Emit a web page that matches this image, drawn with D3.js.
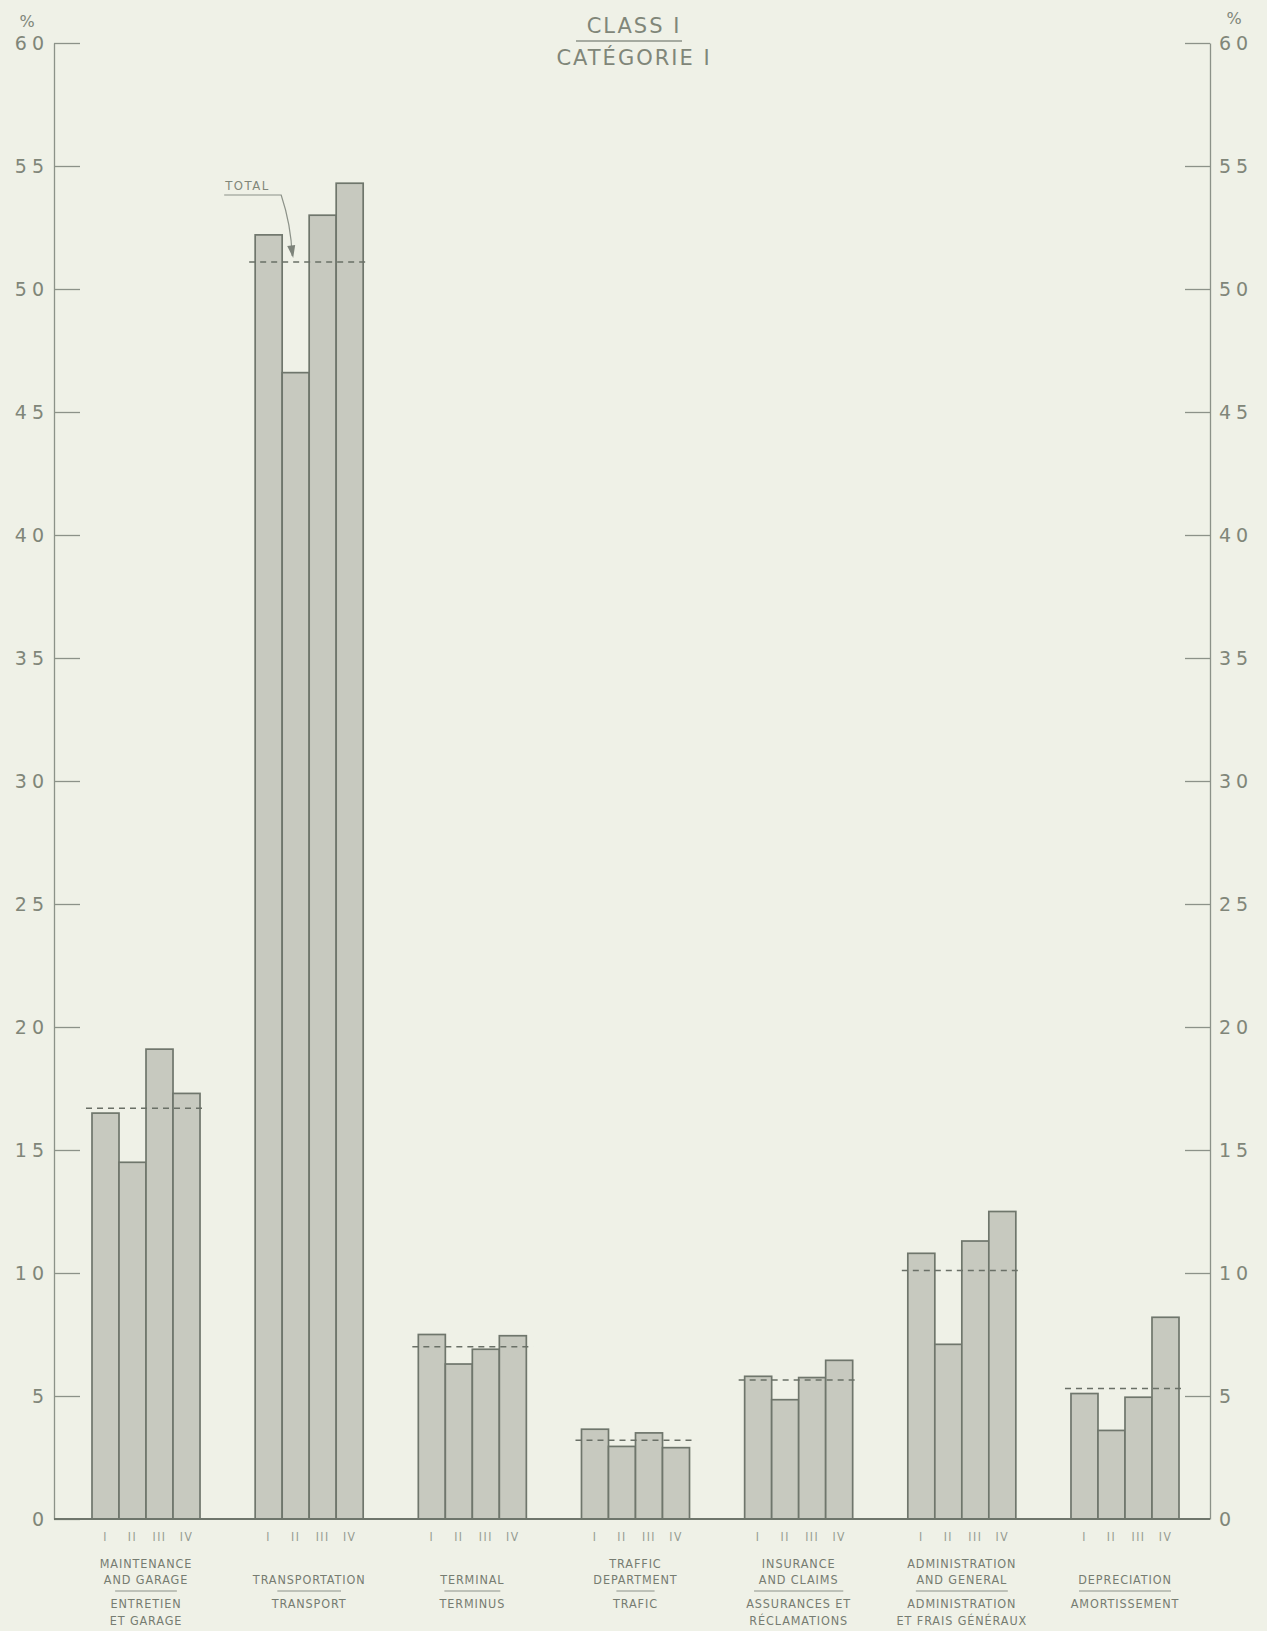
<!DOCTYPE html>
<html>
<head>
<meta charset="utf-8">
<script src="https://cdn.jsdelivr.net/npm/d3@7"></script>
<style>
  html, body { margin: 0; padding: 0; background: #eff1e7; }
  svg { display: block; }
</style>
</head>
<body>
<svg id="chart" width="1267" height="1631"></svg>
<script>
// categories (English / French labels)
const categories = ['maint', 'transp', 'term', 'traffic', 'insur', 'admin', 'depr']
const labelsEn = [
  ['MAINTENANCE', 'AND GARAGE'],
  ['TRANSPORTATION'],
  ['TERMINAL'],
  ['TRAFFIC', 'DEPARTMENT'],
  ['INSURANCE', 'AND CLAIMS'],
  ['ADMINISTRATION', 'AND GENERAL'],
  ['DEPRECIATION']
]
const labelsFr = [
  ['ENTRETIEN', 'ET GARAGE'],
  ['TRANSPORT'],
  ['TERMINUS'],
  ['TRAFIC'],
  ['ASSURANCES ET', 'RÉCLAMATIONS'],
  ['ADMINISTRATION', 'ET FRAIS GÉNÉRAUX'],
  ['AMORTISSEMENT']
]
const quarters = ['I', 'II', 'III', 'IV']

// per cent, per quarter
const valuesI   = [16.5, 52.2, 7.5, 3.65, 5.8, 10.8, 5.1]
const valuesII  = [14.5, 46.6, 6.3, 2.95, 4.85, 7.1, 3.6]
const valuesIII = [19.1, 53.0, 6.9, 3.5, 5.75, 11.3, 4.95]
const valuesIV  = [17.3, 54.3, 7.45, 2.9, 6.45, 12.5, 8.2]
const totals    = [16.7, 51.1, 7.0, 3.2, 5.65, 10.1, 5.3]

const yTicks = [0, 5, 10, 15, 20, 25, 30, 35, 40, 45, 50, 55, 60]

const series = [valuesI, valuesII, valuesIII, valuesIV]

const ink = '#6f766c'
const textFill = '#808679'
const barFill = '#c7c9bf'

const svg = d3.select('#chart')

const y = d3.scaleLinear().domain([0, 60]).range([1519, 43])

const x0 = d3.scaleBand()
  .domain(categories)
  .range([92, 1179])
  .paddingInner(0.338)
  .paddingOuter(0)

const x1 = d3.scaleBand()
  .domain(quarters)
  .range([0, x0.bandwidth()])
  .padding(0)

// axes
// ====
const leftAxis = svg.append('g')
  .attr('transform', 'translate(54,0)')
  .call(d3.axisLeft(y).tickValues(yTicks).tickSize(-26).tickSizeOuter(0).tickPadding(10))

const rightAxis = svg.append('g')
  .attr('transform', 'translate(1210,0)')
  .call(d3.axisRight(y).tickValues(yTicks).tickSize(-25).tickSizeOuter(0).tickPadding(9))

;[leftAxis, rightAxis].forEach(a => {
  a.select('.domain').attr('stroke', '#8c9289').attr('stroke-width', 1.3)
  a.selectAll('.tick line').attr('stroke', '#8c9289').attr('stroke-width', 1.3)
  a.selectAll('.tick text')
    .attr('fill', textFill)
    .attr('font-family', 'DejaVu Sans, sans-serif')
    .attr('font-size', 19)
    .attr('letter-spacing', 5)
})
leftAxis.selectAll('.tick text').attr('dx', 5)
rightAxis.selectAll('.tick').filter(d => d === 0).select('line').attr('stroke', 'none')

svg.append('text').text('%')
  .attr('x', 27).attr('y', 27)
  .attr('text-anchor', 'middle')
  .attr('fill', textFill).attr('font-family', 'DejaVu Sans, sans-serif').attr('font-size', 16)
svg.append('text').text('%')
  .attr('x', 1234).attr('y', 24)
  .attr('text-anchor', 'middle')
  .attr('fill', textFill).attr('font-family', 'DejaVu Sans, sans-serif').attr('font-size', 16)

// bars
// ====
const groups = svg.append('g').selectAll('g.group')
  .data(categories)
  .join('g')
  .attr('class', 'group')
  .attr('transform', d => `translate(${x0(d)},0)`)

groups.selectAll('rect')
  .data((d, i) => quarters.map((q, j) => ({ q, v: series[j][i] })))
  .join('rect')
  .attr('x', d => x1(d.q))
  .attr('y', d => y(d.v))
  .attr('width', x1.bandwidth())
  .attr('height', d => y(0) - y(d.v))
  .attr('fill', barFill)
  .attr('stroke', ink)
  .attr('stroke-width', 1.7)

// total dashed lines
groups.append('line')
  .attr('x1', -6)
  .attr('x2', x0.bandwidth() + 7)
  .attr('y1', (d, i) => y(totals[i]))
  .attr('y2', (d, i) => y(totals[i]))
  .attr('stroke', '#6a7067')
  .attr('stroke-width', 1.5)
  .attr('stroke-dasharray', '6,5')

// roman numerals
groups.selectAll('text.q')
  .data(quarters)
  .join('text')
  .attr('class', 'q')
  .attr('x', d => x1(d) + x1.bandwidth() / 2)
  .attr('y', 1541)
  .attr('text-anchor', 'middle')
  .attr('fill', '#959b91')
  .attr('font-family', 'DejaVu Sans Condensed, DejaVu Sans, sans-serif')
  .attr('font-size', 12)
  .attr('letter-spacing', 1.5)
  .text(d => d)

// baseline
svg.append('line')
  .attr('x1', 54).attr('x2', 1210)
  .attr('y1', y(0)).attr('y2', y(0))
  .attr('stroke', ink).attr('stroke-width', 1.8)

// category labels
// ===============
const labelFont = 'DejaVu Sans Condensed, DejaVu Sans, sans-serif'
function addLabel(g, t, cx, yy) {
  return g.append('text')
    .attr('x', cx)
    .attr('y', yy)
    .attr('text-anchor', 'middle')
    .attr('fill', '#767c71')
    .attr('font-family', labelFont)
    .attr('font-size', 12.5)
    .attr('letter-spacing', 0.9)
    .text(t)
}
groups.each(function (d, i) {
  const g = d3.select(this)
  const cx = x0.bandwidth() / 2
  const en = labelsEn[i]
  en.forEach((t, k) => addLabel(g, t, cx, 1584 - (en.length - 1 - k) * 16))
  let w = 0
  labelsFr[i].forEach((t, k) => {
    const node = addLabel(g, t, cx, 1608 + k * 17).node()
    w = Math.max(w, node.getComputedTextLength())
  })
  const half = Math.min(w * 0.85, 92) / 2
  g.append('line')
    .attr('x1', cx - half).attr('x2', cx + half)
    .attr('y1', 1591).attr('y2', 1591)
    .attr('stroke', '#8c9289').attr('stroke-width', 1.2)
})

// title
// =====
svg.append('text').text('CLASS I')
  .attr('x', 634).attr('y', 33)
  .attr('text-anchor', 'middle')
  .attr('fill', textFill).attr('font-family', 'DejaVu Sans, sans-serif')
  .attr('font-size', 21).attr('letter-spacing', 2)
svg.append('line')
  .attr('x1', 576).attr('x2', 682).attr('y1', 41).attr('y2', 41)
  .attr('stroke', '#8c9289').attr('stroke-width', 1.3)
svg.append('text').text('CATÉGORIE I')
  .attr('x', 634).attr('y', 65)
  .attr('text-anchor', 'middle')
  .attr('fill', textFill).attr('font-family', 'DejaVu Sans, sans-serif')
  .attr('font-size', 21).attr('letter-spacing', 2)

// TOTAL annotation
// ================
const tx = x0('transp')
svg.append('text').text('TOTAL')
  .attr('x', tx - 30).attr('y', 190)
  .attr('fill', textFill).attr('font-family', labelFont)
  .attr('font-size', 13).attr('letter-spacing', 1.5)
svg.append('path')
  .attr('d', `M${tx - 31},195 L${tx + 26},195 Q${tx + 36},225 ${tx + 37},${y(totals[1]) - 6}`)
  .attr('fill', 'none').attr('stroke', '#8c9289').attr('stroke-width', 1.2)
svg.append('path')
  .attr('d', `M${tx + 32},${y(totals[1]) - 16} L${tx + 38},${y(totals[1]) - 4} L${tx + 40},${y(totals[1]) - 17} Z`)
  .attr('fill', '#7d837a')
</script>
</body>
</html>
